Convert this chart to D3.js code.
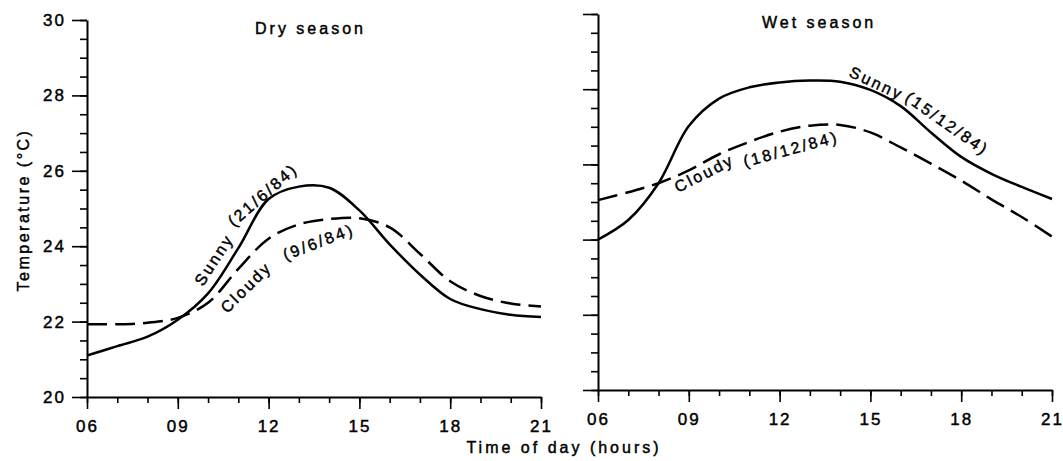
<!DOCTYPE html>
<html>
<head>
<meta charset="utf-8">
<script src="https://cdn.jsdelivr.net/npm/d3@7"></script>
<style>
  html, body { margin: 0; padding: 0; background: #fff; }
  svg { display: block; }
  text { font-family: "Liberation Sans", Arial, Helvetica, sans-serif; fill: #000; stroke: #000; stroke-width: 0.45px; }
</style>
</head>
<body>
<svg id="chart" width="1063" height="461"></svg>
<script>
// ---- data ----
const hours = [6, 7, 8, 9, 10, 11, 12, 13, 14, 15, 16, 17, 18, 19, 20, 21];
const drySunny  = [21.1, 21.35, 21.6, 22.05, 22.75, 23.95, 25.25, 25.58, 25.55, 24.95, 24.05, 23.25, 22.6, 22.33, 22.18, 22.12];
const dryCloudy = [21.93, 21.93, 21.97, 22.1, 22.5, 23.4, 24.2, 24.58, 24.72, 24.74, 24.5, 23.8, 23.07, 22.68, 22.48, 22.4];
const wetSunny  = [24.0, 24.52, 25.5, 27.02, 27.75, 28.05, 28.18, 28.23, 28.2, 27.98, 27.55, 26.85, 26.2, 25.75, 25.4, 25.08];
const wetCloudy = [25.05, 25.26, 25.5, 25.84, 26.27, 26.6, 26.87, 27.03, 27.05, 26.85, 26.45, 26.02, 25.57, 25.07, 24.6, 24.08];
const xTickValues = [6, 9, 12, 15, 18, 21];
const xTickLabels = ["06", "09", "12", "15", "18", "21"];
const yTickValues = [20, 22, 24, 26, 28, 30];
const panelTitles = ["Dry season", "Wet season"];
// curve annotations: [text, hour, temp, angle]
const dryLabels = [["Sunny", 9.83, 22.92, -57], ["(21/6/84)", 10.85, 24.5, -41], ["Cloudy", 10.63, 22.2, -45], ["(9/6/84)", 12.56, 23.62, -21]];
const wetLabels = [["Sunny", 14.26, 28.35, 25], ["(15/12/84)", 16.11, 27.71, 35], ["Cloudy", 8.64, 25.24, -27], ["(18/12/84)", 10.86, 25.93, -15]];

// ---- layout ----
const svg = d3.select("#chart");
const LS = "2.5px";

const panels = [
  { x: d3.scaleLinear([6, 21], [87, 541]), y: d3.scaleLinear([20, 30], [397, 20]), sunny: drySunny, cloudy: dryCloudy, labels: dryLabels, title: panelTitles[0], titlePos: [255, 34], yLabels: true },
  { x: d3.scaleLinear([6, 21], [598, 1052]), y: d3.scaleLinear([20, 30], [390, 14]), sunny: wetSunny, cloudy: wetCloudy, labels: wetLabels, title: panelTitles[1], titlePos: [762, 28], yLabels: false }
];

panels.forEach(p => {
  const g = svg.append("g");
  const x0 = p.x.range()[0], y0 = p.y.range()[0];

  // minor x ticks (hourly)
  g.append("g").attr("transform", `translate(0,${y0})`)
    .call(d3.axisBottom(p.x).tickValues(d3.range(6, 22, 1)).tickSize(6).tickSizeOuter(0).tickFormat(""))
    .call(a => a.select(".domain").remove());
  // major x ticks
  g.append("g").attr("transform", `translate(0,${y0})`)
    .call(d3.axisBottom(p.x).tickValues(xTickValues).tickSize(12).tickSizeOuter(0).tickPadding(11)
      .tickFormat((d, i) => xTickLabels[i]))
    .call(a => a.select(".domain").attr("stroke-width", 2))
    .call(a => a.selectAll("text").attr("font-size", 17).attr("letter-spacing", "2px").attr("fill", "#000"));

  // minor y ticks
  g.append("g").attr("transform", `translate(${x0},0)`)
    .call(d3.axisLeft(p.y).tickValues(d3.range(20, 30.01, 0.5)).tickSize(7).tickSizeOuter(0).tickFormat(""))
    .call(a => a.select(".domain").remove());
  // major y ticks
  g.append("g").attr("transform", `translate(${x0},0)`)
    .call(d3.axisLeft(p.y).tickValues(yTickValues).tickSize(15).tickSizeOuter(0).tickPadding(6)
      .tickFormat(p.yLabels ? d3.format("d") : ""))
    .call(a => a.select(".domain").attr("stroke-width", 2))
    .call(a => a.selectAll("text").attr("font-size", 17).attr("letter-spacing", "2px").attr("fill", "#000"));

  g.selectAll(".tick line").attr("stroke-width", 1.6);

  const line = d3.line().x((d, i) => p.x(hours[i])).y(d => p.y(d)).curve(d3.curveCatmullRom.alpha(0.5));
  g.append("path").attr("d", line(p.sunny)).attr("fill", "none").attr("stroke", "#000").attr("stroke-width", LS);
  g.append("path").attr("d", line(p.cloudy)).attr("fill", "none").attr("stroke", "#000").attr("stroke-width", LS)
    .attr("stroke-dasharray", "20,8");

  g.selectAll("text.ann").data(p.labels).join("text").attr("class", "ann")
    .attr("transform", d => `translate(${p.x(d[1])},${p.y(d[2])}) rotate(${d[3]})`)
    .attr("font-size", 16).attr("letter-spacing", "2.5px").text(d => d[0]);

  g.append("text").attr("x", p.titlePos[0]).attr("y", p.titlePos[1])
    .attr("font-size", 16).attr("letter-spacing", "3px").text(p.title);
});

// axis titles
svg.append("text").attr("transform", "translate(29,210) rotate(-90)").attr("text-anchor", "middle")
  .attr("font-size", 16).attr("letter-spacing", "2.5px").text("Temperature (°C)");
svg.append("text").attr("x", 564).attr("y", 453).attr("text-anchor", "middle")
  .attr("font-size", 16).attr("letter-spacing", "3px").text("Time of day (hours)");
</script>
</body>
</html>
